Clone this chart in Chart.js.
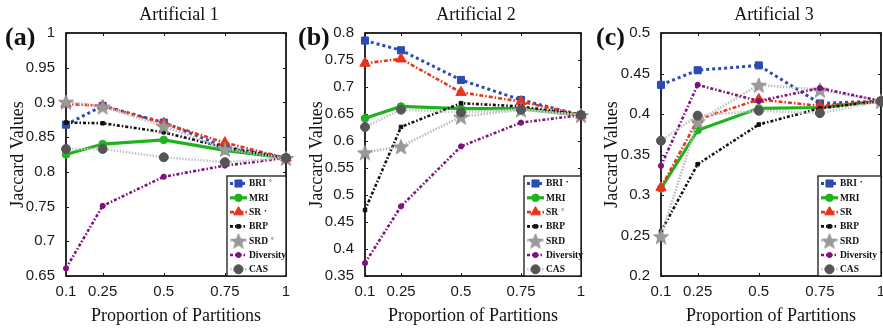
<!DOCTYPE html>
<html><head><meta charset="utf-8">
<script src="https://cdn.jsdelivr.net/npm/chart.js@4"></script>
<style>
html,body{margin:0;padding:0;background:#fff;overflow:hidden;width:883px;height:331px;}
.p{position:absolute;top:0;height:331px;}
canvas{display:block;}
</style></head><body>
<div class="p" style="left:0;width:295px"><canvas id="ca" width="295" height="331"></canvas></div>
<div class="p" style="left:295px;width:295px"><canvas id="cb" width="295" height="331"></canvas></div>
<div class="p" style="left:590px;width:300px"><canvas id="cc" width="300" height="331"></canvas></div>
<script>
// ---------- DATA ----------
const proportions = [0.1, 0.25, 0.5, 0.75, 1];
const xTickLabels = ["0.1", "0.25", "0.5", "0.75", "1"];
const seriesNames = ["BRI", "MRI", "SR", "BRP", "SRD", "Diversity", "CAS"];

const titles = ["Artificial 1", "Artificial 2", "Artificial 3"];
const panelLabels = ["(a)", "(b)", "(c)"];
const yAxisTitle = "Jaccard Values";
const xAxisTitle = "Proportion of Partitions";

const legendA = ["BRI °", "MRI", "SR •", "BRP", "SRD °", "Diversity", "CAS"];
const legendB = ["BRI •", "MRI", "SR °", "BRP", "SRD", "Diversity", "CAS"];
const legendC = ["BRI •", "MRI", "SR", "BRP", "SRD", "Diversity °", "CAS"];

const yTicksA = [0.65, 0.7, 0.75, 0.8, 0.85, 0.9, 0.95, 1];
const yLabelsA = ["0.65", "0.7", "0.75", "0.8", "0.85", "0.9", "0.95", "1"];
const yTicksB = [0.35, 0.4, 0.45, 0.5, 0.55, 0.6, 0.65, 0.7, 0.75, 0.8];
const yLabelsB = ["0.35", "0.4", "0.45", "0.5", "0.55", "0.6", "0.65", "0.7", "0.75", "0.8"];
const yTicksC = [0.2, 0.25, 0.3, 0.35, 0.4, 0.45, 0.5];
const yLabelsC = ["0.2", "0.25", "0.3", "0.35", "0.4", "0.45", "0.5"];

// Panel (a) Artificial 1
const a_BRI = [0.868, 0.895, 0.871, 0.836, 0.820];
const a_MRI = [0.825, 0.840, 0.846, 0.831, 0.820];
const a_SR  = [0.898, 0.895, 0.870, 0.842, 0.820];
const a_BRP = [0.871, 0.870, 0.857, 0.835, 0.820];
const a_SRD = [0.901, 0.894, 0.866, 0.833, 0.820];
const a_Div = [0.661, 0.751, 0.793, 0.809, 0.820];
const a_CAS = [0.833, 0.833, 0.821, 0.814, 0.820];

// Panel (b) Artificial 2
const b_BRI = [0.786, 0.768, 0.713, 0.676, 0.648];
const b_MRI = [0.642, 0.664, 0.660, 0.660, 0.648];
const b_SR  = [0.744, 0.752, 0.690, 0.673, 0.648];
const b_BRP = [0.472, 0.626, 0.670, 0.664, 0.648];
const b_SRD = [0.579, 0.590, 0.645, 0.658, 0.648];
const b_Div = [0.374, 0.479, 0.590, 0.634, 0.648];
const b_CAS = [0.626, 0.658, 0.653, 0.658, 0.648];

// Panel (c) Artificial 3
const c_BRI = [0.436, 0.454, 0.460, 0.413, 0.416];
const c_MRI = [0.308, 0.380, 0.407, 0.408, 0.416];
const c_SR  = [0.309, 0.393, 0.418, 0.410, 0.416];
const c_BRP = [0.255, 0.338, 0.387, 0.407, 0.416];
const c_SRD = [0.249, 0.391, 0.436, 0.430, 0.416];
const c_Div = [0.336, 0.436, 0.416, 0.432, 0.416];
const c_CAS = [0.367, 0.398, 0.404, 0.401, 0.416];

// ---------- STYLES ----------
function makeStar(r, fill, stroke) {
  const s = Math.ceil(r * 2 + 2);
  const c = document.createElement('canvas'); c.width = s; c.height = s;
  const g = c.getContext('2d');
  g.beginPath();
  for (let i = 0; i < 10; i++) {
    const rr = i % 2 ? r * 0.42 : r;
    const ang = -Math.PI / 2 + i * Math.PI / 5;
    g.lineTo(s / 2 + rr * Math.cos(ang), s / 2 + 1 + rr * Math.sin(ang));
  }
  g.closePath(); g.fillStyle = fill; g.fill();
  g.strokeStyle = stroke; g.lineWidth = 0.8; g.stroke();
  return c;
}
const starImg = makeStar(8, '#9a9a9a', '#8a8a8a');

const styles = {
  BRI: {color: '#2c4bb5', point: '#2c4bb5', dash: [3, 3], width: 3, ps: 'rect', r: 5},
  MRI: {color: '#1fb41f', point: '#1fb41f', dash: [], width: 3.2, ps: 'circle', r: 3.8},
  SR: {color: '#e8331d', point: '#e8331d', dash: [4, 2, 1.5, 2], width: 2.6, ps: 'triangle', r: 6},
  BRP: {color: '#111111', point: '#111111', dash: [3, 2, 1.5, 2], width: 2.6, ps: 'rect', r: 2.5},
  SRD: {color: '#bdbdbd', point: '#9a9a9a', dash: [1.5, 1.5], width: 2.6, ps: starImg, r: 8},
  Diversity: {color: '#80117f', point: '#80117f', dash: [3, 2, 1.5, 2], width: 2.6, ps: 'circle', r: 2.6},
  CAS: {color: '#c6c6c6', point: '#555555', dash: [1.5, 1.5], width: 2.6, ps: 'circle', r: 4.5}
};

function buildDatasets(arrs) {
  return seriesNames.map((name, i) => {
    const st = styles[name];
    return {
      label: name,
      data: proportions.map((p, j) => ({x: p, y: arrs[i][j]})),
      borderColor: st.color,
      backgroundColor: st.point,
      borderWidth: st.width,
      borderDash: st.dash,
      pointStyle: st.ps,
      pointRadius: st.r,
      pointHoverRadius: st.r,
      pointBackgroundColor: st.point,
      pointBorderColor: st.point,
      pointBorderWidth: 1,
      tension: 0,
      fill: false,
      clip: false,
      order: -i
    };
  });
}

function drawMarker(ctx, ds, x, y) {
  const opts = {pointStyle: ds.pointStyle, radius: ds.pointRadius, rotation: 0, borderWidth: ds.pointBorderWidth};
  ctx.fillStyle = ds.pointBackgroundColor;
  ctx.strokeStyle = ds.pointBorderColor;
  ctx.lineWidth = ds.pointBorderWidth;
  ctx.setLineDash([]);
  if (Chart.helpers && Chart.helpers.drawPoint) {
    Chart.helpers.drawPoint(ctx, opts, x, y);
  } else if (typeof ds.pointStyle === 'object') {
    ctx.drawImage(ds.pointStyle, x - ds.pointStyle.width / 2, y - ds.pointStyle.height / 2);
  } else {
    ctx.beginPath(); ctx.arc(x, y, ds.pointRadius, 0, Math.PI * 2); ctx.fill();
  }
}

const panelPlugin = {
  id: 'panel',
  beforeDatasetsDraw(chart, args, o) {
    const {ctx, chartArea: a} = chart;
    ctx.save();
    ctx.strokeStyle = '#161616'; ctx.lineWidth = 1.8; ctx.setLineDash([]);
    ctx.strokeRect(a.left, a.top, a.right - a.left, a.bottom - a.top);
    ctx.lineWidth = 1;
    const ys = chart.scales.y, xs = chart.scales.x;
    ctx.beginPath();
    ys.ticks.forEach(t => {
      const py = Math.round(ys.getPixelForValue(t.value)) + 0.5;
      ctx.moveTo(a.left, py); ctx.lineTo(a.left + 3, py);
      ctx.moveTo(a.right, py); ctx.lineTo(a.right - 3, py);
    });
    xs.ticks.forEach(t => {
      const px = Math.round(xs.getPixelForValue(t.value)) + 0.5;
      ctx.moveTo(px, a.bottom); ctx.lineTo(px, a.bottom - 3);
      ctx.moveTo(px, a.top); ctx.lineTo(px, a.top + 3);
    });
    ctx.stroke();
    ctx.restore();
  },
  afterDraw(chart, args, o) {
    const {ctx, chartArea: a} = chart;
    ctx.save();
    // title
    ctx.fillStyle = '#111';
    ctx.font = '18px "Liberation Serif"';
    ctx.textAlign = 'center'; ctx.textBaseline = 'middle';
    ctx.fillText(o.title, (a.left + a.right) / 2 + 3, 15);
    // panel label
    ctx.font = 'bold 26px "Liberation Serif"';
    ctx.textAlign = 'left';
    ctx.fillText(o.label, o.labelX, 38);
    // legend
    const L = o.legLeft, T = 176, R = a.right, B = a.bottom;
    ctx.fillStyle = '#fff';
    ctx.fillRect(L, T, R - L, B - T);
    ctx.strokeStyle = '#161616'; ctx.lineWidth = 1.3; ctx.setLineDash([]);
    ctx.strokeRect(L, T, R - L, B - T);
    const dsets = chart.data.datasets;
    dsets.forEach((ds, i) => {
      const y = T + 7.5 + i * 14.3;
      ctx.save();
      ctx.strokeStyle = ds.borderColor; ctx.lineWidth = ds.borderWidth;
      ctx.setLineDash(ds.borderDash);
      ctx.beginPath(); ctx.moveTo(L + 3, y); ctx.lineTo(L + 20, y); ctx.stroke();
      const sub = Object.assign({}, ds, {pointRadius: Math.min(ds.pointRadius, ds.pointStyle === 'triangle' ? 5.5 : 5)});
      drawMarker(ctx, sub, L + 11.5, y);
      ctx.restore();
      const parts = o.legend[i].split(' ');
      ctx.fillStyle = '#111';
      ctx.font = 'bold 9.5px "Liberation Serif"';
      ctx.textAlign = 'left'; ctx.textBaseline = 'middle';
      ctx.fillText(parts[0], L + 22, y + 0.5);
      if (parts[1]) {
        const w = ctx.measureText(parts[0]).width;
        ctx.font = '7px "Liberation Serif"';
        ctx.fillText(parts[1], L + 22 + w + 3, y - 1);
      }
    });
    ctx.restore();
  }
};

function makeChart(id, arrs, yTicks, yLabels, cfg) {
  const canvasW = document.getElementById(id).width;
  return new Chart(document.getElementById(id), {
    type: 'line',
    data: {datasets: buildDatasets(arrs)},
    options: {
      responsive: false,
      animation: false,
      events: [],
      layout: {padding: {left: 0, top: 33, right: canvasW - cfg.plotRight, bottom: 0}},
      plugins: {
        legend: {display: false},
        tooltip: {enabled: false},
        panel: {title: cfg.title, label: cfg.label, labelX: cfg.labelX, legLeft: cfg.legLeft, legend: cfg.legend}
      },
      scales: {
        x: {
          type: 'linear', min: proportions[0], max: proportions[proportions.length - 1],
          afterBuildTicks: s => { s.ticks = proportions.map(v => ({value: v})); },
          afterFit: s => { s.height = 55; },
          grid: {display: false},
          border: {display: false},
          ticks: {
            autoSkip: false, maxRotation: 0, padding: -1,
            color: '#1a1a1a', font: {family: 'Liberation Sans', size: 15},
            callback: v => xTickLabels[proportions.indexOf(v)]
          },
          title: {display: true, text: xAxisTitle, color: '#111',
            font: {family: 'Liberation Serif', size: 18}, padding: {top: 0, bottom: 4}}
        },
        y: {
          type: 'linear', min: yTicks[0], max: yTicks[yTicks.length - 1],
          afterBuildTicks: s => { s.ticks = yTicks.map(v => ({value: v})); },
          afterFit: s => { s.width = cfg.plotLeft; },
          grid: {display: false},
          border: {display: false},
          ticks: {
            padding: 3, color: '#1a1a1a', font: {family: 'Liberation Sans', size: 15},
            callback: v => yLabels[yTicks.indexOf(v)]
          },
          title: {display: true, text: yAxisTitle, color: '#111',
            font: {family: 'Liberation Serif', size: 18}, padding: {top: cfg.yTitlePad, bottom: 0}}
        }
      }
    },
    plugins: [panelPlugin]
  });
}

makeChart('ca', [a_BRI, a_MRI, a_SR, a_BRP, a_SRD, a_Div, a_CAS], yTicksA, yLabelsA,
  {plotLeft: 66, plotRight: 288, title: titles[0], label: panelLabels[0], labelX: 5, legLeft: 227, legend: legendA, yTitlePad: 7});
makeChart('cb', [b_BRI, b_MRI, b_SR, b_BRP, b_SRD, b_Div, b_CAS], yTicksB, yLabelsB,
  {plotLeft: 70, plotRight: 292, title: titles[1], label: panelLabels[1], labelX: 3, legLeft: 229, legend: legendB, yTitlePad: 11});
makeChart('cc', [c_BRI, c_MRI, c_SR, c_BRP, c_SRD, c_Div, c_CAS], yTicksC, yLabelsC,
  {plotLeft: 71, plotRight: 293, title: titles[2], label: panelLabels[2], labelX: 6, legLeft: 228, legend: legendC, yTitlePad: 11});
</script>
</body></html>
